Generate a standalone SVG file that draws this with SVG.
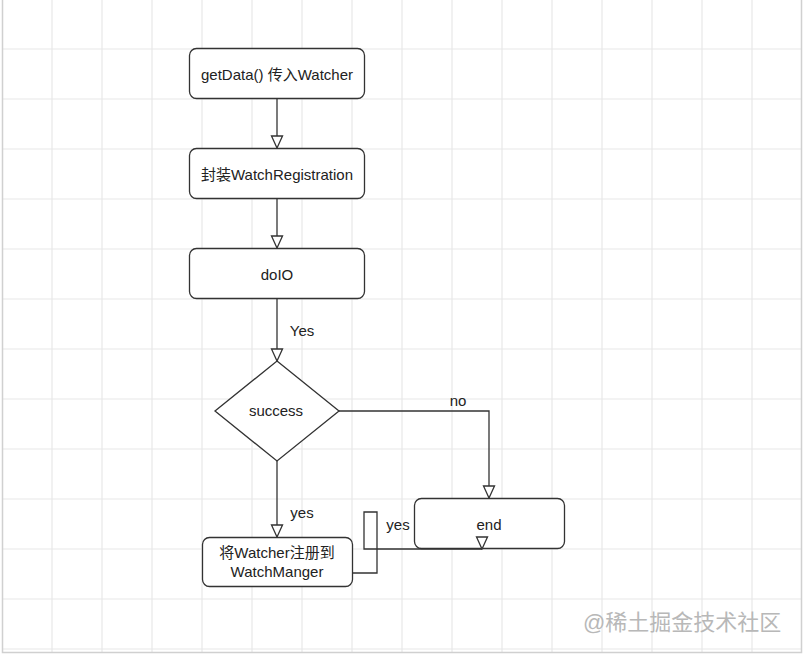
<svg xmlns="http://www.w3.org/2000/svg" width="803" height="654" viewBox="0 0 803 654">
<style>
.grid{stroke:#e8e8e8;stroke-width:1.2;fill:none}
.node{fill:#ffffff;stroke:#333333;stroke-width:1.3}
.t{font-family:"Liberation Sans","Noto Sans CJK SC",sans-serif;font-size:15px;fill:#222222;text-anchor:middle;dominant-baseline:central}
.edge{fill:none;stroke:#333333;stroke-width:1.3}
.wm{font-family:"Liberation Sans","Noto Sans CJK SC",sans-serif;font-size:22px;fill:#b8b8b8}
</style>
<defs>
<marker id="arr" markerUnits="userSpaceOnUse" markerWidth="14" markerHeight="14" viewBox="0 0 14 14" refX="13" refY="7" orient="auto">
<path d="M1,1.5 L13,7 L1,12.5 Z" fill="#ffffff" stroke="#333333" stroke-width="1.3"/>
</marker>
</defs>
<rect x="0" y="0" width="803" height="654" fill="#ffffff"/>
<g id="grid">
<path class="grid" d="M52,0V652M102,0V652M152,0V652M202,0V652M252,0V652M302,0V652M352,0V652M402,0V652M452,0V652M502,0V652M552,0V652M602,0V652M652,0V652M702,0V652M752,0V652"/>
<path class="grid" d="M2,49H801M2,99H801M2,149H801M2,199H801M2,249H801M2,299H801M2,349H801M2,399H801M2,449H801M2,499H801M2,549H801M2,599H801M2,649H801"/>
<path d="M2.5,0V652.5H801.5V0" fill="none" stroke="#d0d0d0" stroke-width="1.5"/>
</g>
<g id="n1"><rect class="node" x="189.5" y="48.5" width="175" height="50" rx="7"/><text class="t" x="277" y="74">getData() 传入Watcher</text></g>
<g id="n2"><rect class="node" x="189.5" y="148.5" width="175" height="50" rx="7"/><text class="t" x="277" y="174">封装WatchRegistration</text></g>
<g id="n3"><rect class="node" x="189.5" y="248.5" width="175" height="50" rx="7"/><text class="t" x="277" y="274">doIO</text></g>
<g id="n4"><path class="node" d="M277,361L339,411L277,461L215,411Z"/><text class="t" x="276" y="410">success</text></g>
<g id="n5"><rect class="node" x="202.5" y="537.5" width="150" height="49" rx="7"/><text class="t" x="277" y="552">将Watcher注册到</text><text class="t" x="277" y="571">WatchManger</text></g>
<g id="n6"><rect class="node" x="414.5" y="498.5" width="150" height="50" rx="7"/><text class="t" x="489" y="524">end</text></g>
<g id="edges">
<path class="edge" d="M277,98V148" marker-end="url(#arr)"/>
<path class="edge" d="M277,198V248" marker-end="url(#arr)"/>
<path class="edge" d="M277,298V361" marker-end="url(#arr)"/>
<text class="t" x="302" y="330">Yes</text>
<path class="edge" d="M339,411H489V498" marker-end="url(#arr)"/>
<text class="t" x="458" y="400">no</text>
<path class="edge" d="M277,460V537" marker-end="url(#arr)"/>
<text class="t" x="302" y="512">yes</text>
<path class="edge" d="M352,573H377V512H364V549H482"/>
<path class="edge" d="M482,537V549" marker-end="url(#arr)"/>
<text class="t" x="398" y="524">yes</text>
</g>
<text class="wm" x="583" y="630">@稀土掘金技术社区</text>
</svg>
